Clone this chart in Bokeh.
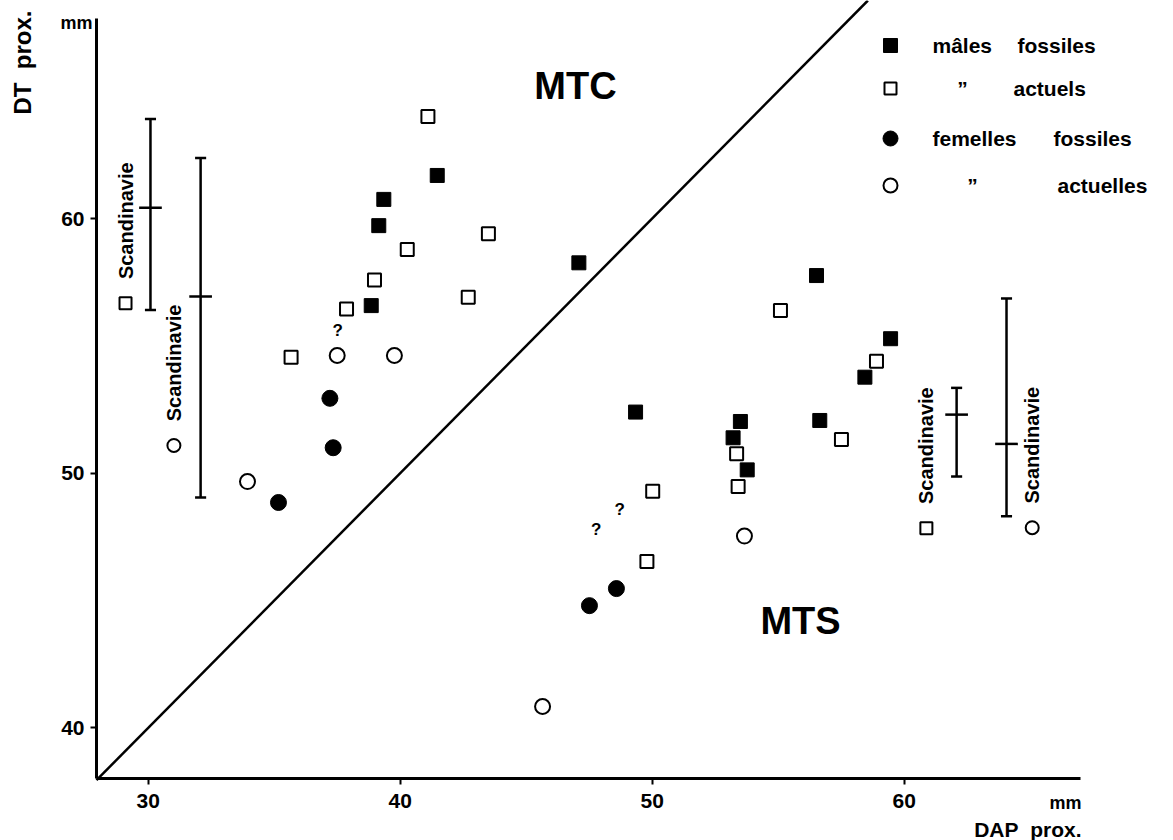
import math
from bokeh.plotting import figure
from bokeh.models import FixedTicker
from bokeh.embed import file_html
from bokeh.resources import INLINE
from bokeh.core.properties import value

# ---------------- data (mm) ----------------
x_ticks = [30, 40, 50, 60]
y_ticks = [40, 50, 60]

males_fossil_x = [41.47, 39.35, 39.15, 38.85, 47.09, 56.52, 59.46, 58.44, 49.34, 53.50, 56.65, 53.21, 53.77]
males_fossil_y = [61.69, 60.75, 59.72, 56.58, 58.26, 57.76, 55.28, 53.77, 52.40, 52.03, 52.07, 51.39, 50.13]

males_actual_x = [41.10, 43.50, 40.28, 38.98, 42.70, 37.87, 35.67, 55.09, 58.90, 57.51, 53.35, 53.41, 50.02, 49.79]
males_actual_y = [64.00, 59.40, 58.78, 57.59, 56.91, 56.45, 54.55, 56.39, 54.40, 51.32, 50.76, 49.48, 49.29, 46.53]

females_fossil_x = [37.21, 37.34, 35.17, 47.51, 48.58]
females_fossil_y = [52.94, 51.00, 48.85, 44.80, 45.47]

females_actual_x = [37.50, 39.77, 33.94, 53.66, 45.65]
females_actual_y = [54.62, 54.62, 49.67, 47.53, 40.84]

# uncertain points ("?")
query_x = [37.52, 48.71, 47.78]
query_y = [55.60, 48.56, 47.78]

# Scandinavian reference ranges (min / mean / max)
scand_x = [30.09, 32.08, 62.08, 64.06]
scand_low = [56.41, 49.05, 49.87, 48.31]
scand_mean = [60.42, 56.94, 52.30, 51.15]
scand_high = [63.91, 62.38, 53.35, 56.86]
scand_marker = ["square", "circle", "square", "circle"]
scand_mark_x = [29.10, 31.02, 60.88, 65.08]
scand_mark_y = [56.67, 51.09, 47.84, 47.86]

diag_offset = 10.0  # separation line DT = DAP + 10

# ---------------- layout ----------------
W, H = 1173, 840
# frame covers the whole canvas; axes are drawn at fixed locations
X0 = 30 - 147.7 / 25.2
X1 = 30 + (W - 147.7) / 25.2
Y1 = 60 + 218 / 25.47
Y0 = 60 - (H - 218) / 25.47


def px2x(px):
    return X0 + px * (X1 - X0) / W


def py2y(py):
    return Y1 - py * (Y1 - Y0) / H


AX_X = px2x(96)    # data x where the vertical axis sits
AX_Y = py2y(778)   # data y where the horizontal axis sits
NB = "\u00a0"

FONT = value("Liberation Sans")
TXT = dict(text_font=FONT, text_font_style="bold", text_color="black")

p = figure(width=W, height=H, x_range=(X0, X1), y_range=(Y0, Y1),
           output_backend="svg", toolbar_location=None,
           min_border_left=0, min_border_right=0, min_border_top=0, min_border_bottom=0)
p.outline_line_color = None
p.grid.visible = False
p.background_fill_color = "white"
p.border_fill_color = "white"

p.xaxis.fixed_location = AX_Y
p.yaxis.fixed_location = AX_X
for ax, ticks, bnds in ((p.xaxis, x_ticks, (AX_X, px2x(1080))), (p.yaxis, y_ticks, (AX_Y, py2y(18)))):
    ax.ticker = FixedTicker(ticks=ticks)
    ax.bounds = bnds
    ax.axis_line_width = 3
    ax.axis_line_color = "black"
    ax.major_tick_line_width = 2
    ax.major_tick_out = 6
    ax.major_tick_in = 0
    ax.minor_tick_line_color = None
    ax.major_label_text_font = "Liberation Sans"
    ax.major_label_text_font_style = "bold"
    ax.major_label_text_font_size = "21px"
    ax.major_label_text_color = "black"
p.xaxis.major_label_standoff = 9
p.yaxis.major_label_standoff = 6

# diagonal separation line
dx = [AX_X, Y1 - diag_offset]
p.line(x=dx, y=[v + diag_offset for v in dx], line_color="black", line_width=2.5)

# Scandinavian ranges
cap = 0.22
mean_w = 0.45
p.segment(x0=scand_x, y0=scand_low, x1=scand_x, y1=scand_high, line_color="black", line_width=2.5)
p.segment(x0=[v - cap for v in scand_x], y0=scand_low, x1=[v + cap for v in scand_x], y1=scand_low,
          line_color="black", line_width=2.5)
p.segment(x0=[v - cap for v in scand_x], y0=scand_high, x1=[v + cap for v in scand_x], y1=scand_high,
          line_color="black", line_width=2.5)
p.segment(x0=[v - mean_w for v in scand_x], y0=scand_mean, x1=[v + mean_w for v in scand_x], y1=scand_mean,
          line_color="black", line_width=2.5)
for mk, mx, my in zip(scand_marker, scand_mark_x, scand_mark_y):
    p.scatter(x=[mx], y=[my], marker=mk, size=12 if mk == "square" else 13,
              fill_color="white", line_color="black", line_width=2)
p.text(x=scand_mark_x, y=[v + 0.95 for v in scand_mark_y], text=["Scandinavie"] * 4,
       angle=math.pi / 2, text_align="left", text_baseline="middle",
       text_font_size="20px", **TXT)

# data points
p.scatter(x=males_actual_x, y=males_actual_y, marker="square", size=13,
          fill_color="white", line_color="black", line_width=2)
p.scatter(x=males_fossil_x, y=males_fossil_y, marker="square", size=14,
          fill_color="black", line_color="black", line_width=1)
p.scatter(x=females_actual_x, y=females_actual_y, marker="circle", size=15,
          fill_color="white", line_color="black", line_width=2)
p.scatter(x=females_fossil_x, y=females_fossil_y, marker="circle", size=16,
          fill_color="black", line_color="black", line_width=1)
p.text(x=query_x, y=query_y, text=["?"] * len(query_x), text_align="center", text_baseline="middle",
       text_font_size="17px", **TXT)

# zone labels
p.text(x=[px2x(575), px2x(800)], y=[py2y(85), py2y(620)], text=["MTC", "MTS"],
       text_align="center", text_baseline="middle", text_font_size="38px", **TXT)

# legend
leg_x = px2x(890)
leg_rows = [py2y(45), py2y(88), py2y(138), py2y(185)]
p.scatter(x=[leg_x], y=[leg_rows[0]], marker="square", size=14, fill_color="black", line_color="black")
p.scatter(x=[leg_x], y=[leg_rows[1]], marker="square", size=12, fill_color="white", line_color="black", line_width=2)
p.scatter(x=[leg_x], y=[leg_rows[2]], marker="circle", size=15, fill_color="black", line_color="black")
p.scatter(x=[leg_x], y=[leg_rows[3]], marker="circle", size=14, fill_color="white", line_color="black", line_width=2)
words = [("mâles", 932, 0), ("fossiles", 1017, 0), ("actuels", 1013, 1),
         ("femelles", 932, 2), ("fossiles", 1053, 2), ("actuelles", 1057, 3)]
p.text(x=[px2x(w[1]) for w in words], y=[leg_rows[w[2]] for w in words], text=[w[0] for w in words],
       text_align="left", text_baseline="middle", text_font_size="21px", **TXT)
p.text(x=[px2x(962), px2x(972)], y=[leg_rows[1], leg_rows[3]], text=["\u201d", "\u201d"],
       text_align="center", text_baseline="middle", text_font_size="21px", **TXT)

# axis titles
p.text(x=[px2x(22)], y=[py2y(62)], text=["DT" + NB * 2 + "prox."], angle=math.pi / 2,
       text_align="center", text_baseline="middle", text_font_size="24px", **TXT)
p.text(x=[px2x(92), px2x(1081)], y=[py2y(22), py2y(802)], text=["mm", "mm"],
       text_align="right", text_baseline="middle", text_font_size="18px", **TXT)
p.text(x=[px2x(1081)], y=[py2y(829)], text=["DAP" + NB * 2 + "prox."],
       text_align="right", text_baseline="middle", text_font_size="21px", **TXT)

open("out.html", "w").write(file_html(p, INLINE))
